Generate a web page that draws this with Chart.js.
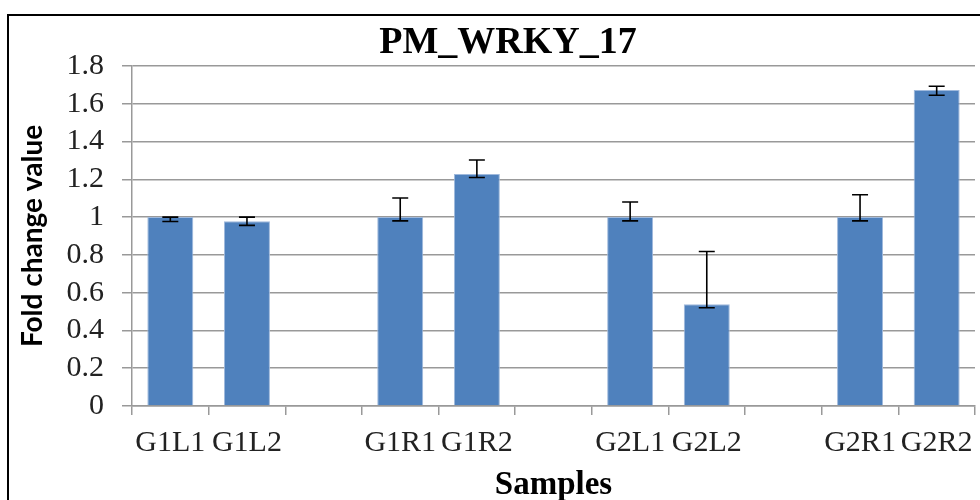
<!DOCTYPE html>
<html>
<head>
<meta charset="utf-8">
<script src="https://cdn.jsdelivr.net/npm/chart.js@4/dist/chart.umd.min.js"></script>
<style>
  html, body { margin: 0; padding: 0; background: #fff; overflow: hidden; width: 980px; height: 500px; }
  #frame { position: absolute; left: 7px; top: 14px; width: 2000px; height: 1000px;
           border-left: 2px solid #000; border-top: 2px solid #000; }
  #chart { position: absolute; left: 8px; top: 0; }
</style>
</head>
<body>
<div id="frame"></div>
<canvas id="chart" width="1000" height="520"></canvas>
<script>
// ── Data ──────────────────────────────────────────────────────────────────────
const samples    = ['G1L1', 'G1L2', '', 'G1R1', 'G1R2', '', 'G2L1', 'G2L2', '', 'G2R1', 'G2R2'];
const foldChange = [1.0, 0.978, null, 1.0, 1.228, null, 1.0, 0.539, null, 1.0, 1.673];
const errHigh    = [1.0, 1.0, null, 1.101, 1.302, null, 1.08, 0.818, null, 1.118, 1.693];
const errLow     = [0.977, 0.956, null, 0.98, 1.21, null, 0.98, 0.52, null, 0.98, 1.645];
const yTicks     = [0, 0.2, 0.4, 0.6, 0.8, 1, 1.2, 1.4, 1.6, 1.8];

const SERIF = "'Liberation Serif', 'Times New Roman', serif";

// ── Error bars ────────────────────────────────────────────────────────────────
const errorBars = {
  id: 'errorBars',
  afterDatasetsDraw(chart) {
    const { ctx, scales: { x, y } } = chart;
    ctx.save();
    ctx.strokeStyle = '#000';
    ctx.lineWidth = 1.6;
    foldChange.forEach((v, i) => {
      if (v == null) return;
      const px  = x.getPixelForValue(i);
      const top = y.getPixelForValue(errHigh[i]);
      const bot = y.getPixelForValue(errLow[i]);
      ctx.beginPath();
      ctx.moveTo(px, top);     ctx.lineTo(px, bot);
      ctx.moveTo(px - 8, top); ctx.lineTo(px + 8, top);
      ctx.moveTo(px - 8, bot); ctx.lineTo(px + 8, bot);
      ctx.stroke();
    });
    ctx.restore();
  },
};

// ── Chart ─────────────────────────────────────────────────────────────────────
const ctx = document.getElementById('chart').getContext('2d');
new Chart(ctx, {
  type: 'bar',
  data: {
    labels: samples,
    datasets: [{
      label: 'Fold change',
      data: foldChange,
      backgroundColor: '#4f81bd',
      borderColor: '#9fb9dc',
      borderWidth: 1,
      barPercentage: 0.6,
      categoryPercentage: 1.0,
    }],
  },
  plugins: [errorBars],
  options: {
    responsive: false,
    animation: false,
    layout: { padding: 0 },
    plugins: {
      legend: { display: false },
      tooltip: { enabled: false },
      title: {
        display: true,
        text: 'PM_WRKY_17',
        color: '#000',
        font: { family: SERIF, size: 38, weight: 'bold', lineHeight: 1.2 },
        padding: { top: 20, bottom: 0.4 },
      },
    },
    scales: {
      x: {
        afterFit: (s) => { s.height = 114; },
        grid: { drawOnChartArea: false, drawTicks: true, tickLength: 9, color: '#999', lineWidth: 1.5, offset: true },
        border: { color: '#999', width: 1.5 },
        ticks: { autoSkip: false, maxRotation: 0, color: '#222', padding: 10, font: { family: SERIF, size: 30 } },
        title: {
          display: true,
          text: 'Samples',
          color: '#000',
          font: { family: SERIF, size: 33, weight: 'bold', lineHeight: 1.2 },
          padding: { top: 0, bottom: 15 },
        },
      },
      y: {
        min: 0,
        max: 1.8,
        afterFit: (s) => { s.width = 124; },
        afterBuildTicks: (s) => { s.ticks = yTicks.map(v => ({ value: v })); },
        grid: { color: '#999', lineWidth: 1.5, tickLength: 10 },
        border: { color: '#999', width: 1.5 },
        ticks: {
          autoSkip: false,
          color: '#222',
          padding: 18,
          font: { family: SERIF, size: 30 },
          callback: (v) => String(Number(v.toFixed(1))),
        },
        title: {
          display: true,
          text: 'Fold change value',
          color: '#000',
          font: { family: "Lato, 'Liberation Sans', sans-serif", size: 28, weight: 'bold', lineHeight: 1.2 },
          padding: { top: 8, bottom: 0 },
        },
      },
      // empty right-hand spacer so the title stays centred on the whole frame
      spacer: {
        type: 'linear',
        position: 'right',
        afterFit: (s) => { s.width = 33; },
        grid: { display: false },
        border: { display: false },
        ticks: { display: false },
      },
    },
  },
});
</script>
</body>
</html>
